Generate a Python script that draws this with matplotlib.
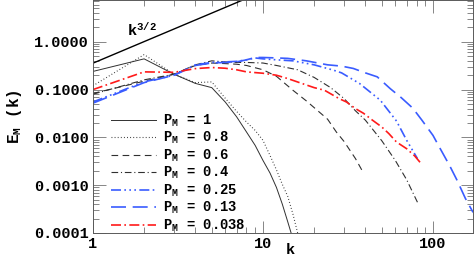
import matplotlib
matplotlib.use("Agg")
import matplotlib.pyplot as plt
from matplotlib.ticker import FixedLocator, FixedFormatter, LogLocator, NullFormatter

plt.rcParams["font.family"] = ["Liberation Mono", "DejaVu Sans Mono"]
plt.rcParams["font.weight"] = "bold"
plt.rcParams["axes.labelweight"] = "bold"
plt.rcParams["mathtext.fontset"] = "custom"
plt.rcParams["mathtext.rm"] = "Liberation Mono:bold"
plt.rcParams["mathtext.it"] = "Liberation Mono:bold"
plt.rcParams["mathtext.bf"] = "Liberation Mono:bold"

# ---------------------------------------------------------------------------
# Dados
# ---------------------------------------------------------------------------

k_pm1 = [1, 2, 3, 4, 5, 6, 7, 8, 9, 10, 11, 12, 13, 14, 15]
e_pm1 = [0.24, 0.44, 0.21, 0.135, 0.11, 0.055, 0.027, 0.013, 0.0068, 0.0033,
         0.0018, 0.0009, 0.0004, 0.00017, 0.000075]

k_pm08 = [1, 2, 3, 4, 5, 6, 7, 8, 9, 10, 11, 12, 13, 14, 15, 16]
e_pm08 = [0.12, 0.54, 0.21, 0.14, 0.145, 0.066, 0.035, 0.021, 0.014, 0.0087,
          0.0042, 0.0021, 0.00104, 0.00058, 0.00025, 0.0001]

k_pm06 = [1, 2, 3, 4, 5, 6, 7, 8, 10, 12, 15, 18, 20, 24, 27, 30, 35, 39]
e_pm06 = [0.083, 0.15, 0.21, 0.32, 0.36, 0.35, 0.34, 0.32, 0.26, 0.19, 0.097,
          0.058, 0.042, 0.024, 0.013, 0.0082, 0.0036, 0.0018]

k_pm04 = [1, 2, 3, 4, 5, 6, 7, 8, 10, 12, 16, 20, 25, 30, 35, 40, 50, 60, 70, 81]
e_pm04 = [0.08, 0.16, 0.21, 0.33, 0.40, 0.38, 0.37, 0.37, 0.36, 0.32, 0.26,
          0.18, 0.11, 0.065, 0.036, 0.023, 0.0085, 0.0033, 0.0013, 0.00044]

k_pm025 = [1, 2, 3, 4, 5, 6, 7, 8, 9, 10, 12, 15, 20, 26, 29, 37, 49, 61, 70, 81]
e_pm025 = [0.055, 0.145, 0.2, 0.33, 0.37, 0.38, 0.39, 0.42, 0.46, 0.44, 0.42,
           0.40, 0.33, 0.255, 0.224, 0.134, 0.06, 0.022, 0.0087, 0.0036]

k_pm013 = [1, 2, 3, 4, 5, 6, 7, 8, 9, 10, 12, 14, 18, 24, 29, 34, 40, 47, 56,
           65, 76, 86, 100, 110, 125, 138, 155, 172]
e_pm013 = [0.052, 0.14, 0.2, 0.32, 0.36, 0.37, 0.38, 0.42, 0.47, 0.47, 0.46,
           0.45, 0.40, 0.33, 0.31, 0.277, 0.224, 0.185, 0.105, 0.068, 0.041,
           0.023, 0.011, 0.0059, 0.0026, 0.0013, 0.00053, 0.00027]

k_pm0038 = [1, 2, 3, 4, 5, 6, 7, 8, 10, 12, 14, 17, 20, 23, 28, 31, 35, 39,
            44, 50, 55, 61, 70, 78, 84]
e_pm0038 = [0.10, 0.235, 0.23, 0.275, 0.29, 0.28, 0.26, 0.235, 0.22, 0.20,
            0.17, 0.134, 0.11, 0.097, 0.065, 0.055, 0.04, 0.032, 0.023,
            0.0165, 0.012, 0.008, 0.0058, 0.0041, 0.003]

# reta de referencia k^{3/2} (cortada no topo do grafico)
k_ref = [1, 8]
e_ref = [0.357, 8.08]

rotulos_pm = ["1", "0.8", "0.6", "0.4", "0.25", "0.13", "0.038"]

# ---------------------------------------------------------------------------
# Figura
# ---------------------------------------------------------------------------

fig = plt.figure(figsize=(4.74, 2.58), dpi=100)
ax = fig.add_axes([0.196, 0.097, 0.802, 0.903])

preto = "#303030"
azul = "#3a5cff"
vermelho = "#ff1a1a"

ax.plot(k_ref, e_ref, color="black", lw=1.0)

series = [
    (k_pm1, e_pm1, dict(color=preto, lw=0.7, ls="-")),
    (k_pm08, e_pm08, dict(color=preto, lw=0.8, ls=(0, (0.8, 2.0)))),
    (k_pm06, e_pm06, dict(color=preto, lw=0.8, ls=(0, (6, 4)))),
    (k_pm04, e_pm04, dict(color=preto, lw=0.8, ls=(0, (6, 2.5, 1, 2.5)))),
    (k_pm025, e_pm025, dict(color=azul, lw=1.2,
                            ls=(0, (6, 2, 1, 2, 1, 2, 1, 2)))),
    (k_pm013, e_pm013, dict(color=azul, lw=1.2, ls=(0, (9, 4)))),
    (k_pm0038, e_pm0038, dict(color=vermelho, lw=1.2, ls=(0, (6, 2, 1, 2)))),
]

for (kk, ee, estilo), rot in zip(series, rotulos_pm):
    ax.plot(kk, ee, label=r"$\mathbf{P_M}$ = " + rot, **estilo)

ax.text(1.58, 1.32, r"k$^{3/2}$", fontsize=11, ha="left", va="baseline")

ax.set_xscale("log")
ax.set_yscale("log")
ax.set_xlim(1, 172)
ax.set_ylim(1e-4, 7.5)

ax.xaxis.set_major_locator(FixedLocator([1, 10, 100]))
ax.xaxis.set_major_formatter(FixedFormatter(["1", "10", "100"]))
ax.xaxis.set_minor_locator(LogLocator(base=10, subs=range(2, 10)))
ax.xaxis.set_minor_formatter(NullFormatter())

yt = [1e-4, 1e-3, 1e-2, 1e-1, 1]
ax.yaxis.set_major_locator(FixedLocator(yt))
ax.yaxis.set_major_formatter(FixedFormatter(["%.4f" % v for v in yt]))
ax.yaxis.set_minor_locator(LogLocator(base=10, subs=range(2, 10)))
ax.yaxis.set_minor_formatter(NullFormatter())

ax.tick_params(which="both", direction="in", top=True, right=True,
               color="0.45", width=0.6, labelsize=11, pad=3)
ax.tick_params(which="major", length=9)
ax.tick_params(which="minor", length=4.5)
for s in ax.spines.values():
    s.set_linewidth(0.7)
    s.set_color("0.35")

ax.set_xlabel("k", fontsize=11, fontweight="bold", va="center")
ax.xaxis.set_label_coords(0.52, -0.072)
ax.set_ylabel(r"E$_\mathbf{M}$ (k)", fontsize=11.5, fontweight="bold")
ax.yaxis.set_label_coords(-0.18, 0.5)

ax.legend(loc="lower left", bbox_to_anchor=(0.045, -0.01), frameon=False,
          fontsize=10, handlelength=3.2, handletextpad=0.5,
          labelspacing=0.08, borderpad=0.1, borderaxespad=0.0)

fig.savefig("out.png", dpi=100)
